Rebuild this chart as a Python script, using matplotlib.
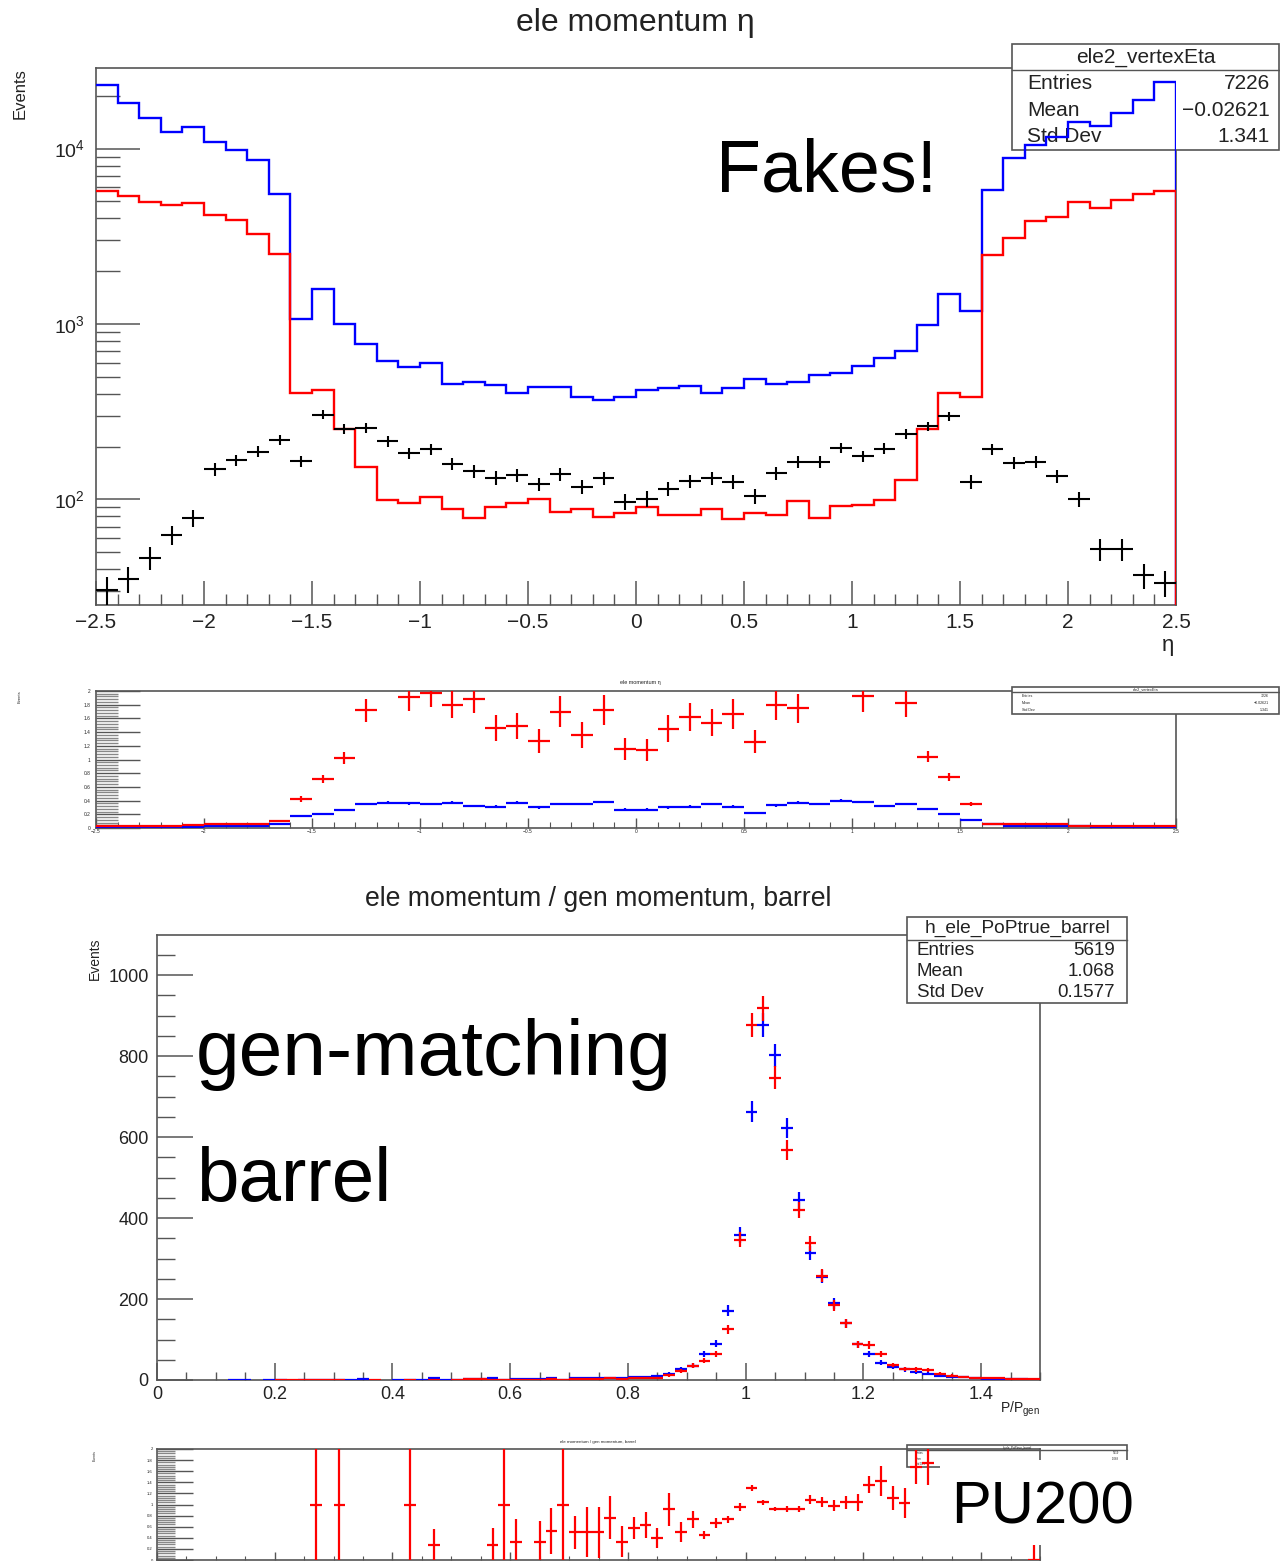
import numpy as np
import matplotlib
matplotlib.use('Agg')
import matplotlib.pyplot as plt
from matplotlib.patches import Rectangle
from matplotlib.lines import Line2D
from matplotlib.ticker import MultipleLocator, LogLocator, NullFormatter, FuncFormatter

# ---------------- data: electron eta (50 bins, -2.5 .. 2.5) ----------------
eta_range = (-2.5, 2.5)
eta_nbins = 50
eta_blue = [23000, 18100, 14900, 12400, 13300, 10900, 9850, 8600, 5540, 1070,
            1585, 1000, 767, 613, 570, 596, 452, 468, 448, 405,
            436, 436, 381, 371, 381, 420, 429, 444, 405, 432,
            485, 452, 468, 515, 523, 574, 643, 705, 985, 1487,
            1180, 5810, 8860, 10500, 11640, 14150, 13370, 16000, 18980, 23900]
eta_red = [5740, 5400, 4970, 4770, 4890, 4200, 3900, 3270, 2490, 405,
           421, 251, 152, 99.5, 96, 103, 88, 78, 91, 96,
           101, 85, 88, 79, 84, 90, 81.5, 81.5, 88, 77,
           84, 81.5, 98, 78, 92, 92.5, 98.9, 129, 252, 406,
           384, 2460, 3100, 3850, 4055, 4985, 4570, 5120, 5530, 5730]
eta_fakes = [30.4, 35.3, 46.5, 62.8, 78.7, 149, 167, 187, 219, 165,
             304, 253, 255, 214, 183, 194, 159, 145, 133, 138,
             122, 139, 118, 132, 97, 101, 115, 127, 132, 126,
             105, 141, 164, 164, 197, 176, 195, 236, 261, 297,
             126, 193, 161, 163, 136, 100, 52, 52, 37, 33.5]

# ratio panel under the eta plot
eta_ratio_red = [0.03, 0.03, 0.03, 0.03, 0.04, 0.065, 0.065, 0.065, 0.10, 0.42,
                 0.72, 1.02, 1.72, 2.5, 1.91, 1.97, 1.80, 1.89, 1.46, 1.49,
                 1.27, 1.70, 1.36, 1.72, 1.15, 1.14, 1.45, 1.62, 1.54, 1.66,
                 1.26, 1.79, 1.75, 2.5, 2.5, 1.92, 2.5, 1.82, 1.04, 0.74,
                 0.35, 0.065, 0.065, 0.065, 0.065, 0.035, 0.025, 0.025, 0.025, 0.025]
eta_ratio_red_err = [0.005, 0.005, 0.005, 0.006, 0.006, 0.008, 0.008, 0.008, 0.01, 0.04,
                     0.06, 0.09, 0.17, 0.25, 0.20, 0.21, 0.20, 0.21, 0.19, 0.19,
                     0.17, 0.22, 0.19, 0.22, 0.16, 0.16, 0.20, 0.21, 0.20, 0.22,
                     0.17, 0.22, 0.21, 0.25, 0.25, 0.22, 0.25, 0.20, 0.08, 0.06,
                     0.03, 0.008, 0.008, 0.008, 0.008, 0.006, 0.005, 0.005, 0.005, 0.005]
eta_ratio_blue = [0.015, 0.015, 0.015, 0.015, 0.015, 0.035, 0.035, 0.035, 0.065, 0.17,
                  0.21, 0.26, 0.35, 0.37, 0.36, 0.35, 0.37, 0.32, 0.31, 0.37,
                  0.30, 0.35, 0.35, 0.38, 0.27, 0.27, 0.30, 0.31, 0.35, 0.31,
                  0.22, 0.33, 0.37, 0.35, 0.40, 0.38, 0.32, 0.35, 0.28, 0.21,
                  0.11, 0.065, 0.035, 0.035, 0.035, 0.035, 0.015, 0.015, 0.015, 0.015]
eta_ratio_blue_err = [0.004] * 9 + [0.012] * 3 + [0.02] * 26 + [0.012] * 3 + [0.004] * 9

# ---------------- data: P/Pgen barrel (75 bins, 0 .. 1.5) ----------------
p_range = (0.0, 1.5)
p_nbins = 75
p_blue = [0, 0, 0, 0, 0, 0, 1, 1, 0, 1,
          1, 0, 1, 1, 1, 1, 1, 2, 0, 0,
          1, 1, 1, 4, 1, 1, 2, 2, 4, 1,
          3, 3, 3, 4, 1, 4, 4, 4, 5, 6,
          7, 8, 10, 15, 28, 35, 64, 90, 171, 358,
          663, 877, 802, 623, 444, 313, 255, 189, 140, 88,
          64, 43, 33, 26, 19, 15, 10, 8, 7, 4,
          3, 3, 2, 2, 1]
p_red = [0, 0, 0, 0, 0, 0, 0, 0, 0, 0,
         1, 1, 1, 1, 1, 1, 0, 0, 1, 0,
         0, 1, 0, 1, 0, 1, 2, 2, 1, 1,
         1, 1, 1, 2, 1, 2, 2, 2, 4, 2,
         4, 5, 4, 12, 22, 35, 48, 64, 125, 346,
         877, 918, 747, 568, 420, 338, 257, 185, 140, 88,
         86, 64, 37, 28, 26, 24, 16, 11, 8, 6,
         5, 4, 3, 2, 2]
nan = float('nan')
p_ratio = [nan] * 13 + [1.0, nan, 1.0, nan, nan, nan, nan, nan, 1.0,
           nan, 0.27, nan, nan, nan, nan, 0.27, 1.0, 0.33, nan,
           0.33, 0.52, 1.0, 0.5, 0.5, 0.5, 0.76, 0.33, 0.57, 0.63,
           0.40, 0.91, 0.5, 0.73, 0.45, 0.67, 0.73, 0.96, 1.30, 1.04,
           0.92, 0.92, 0.92, 1.09, 1.04, 0.98, 1.04, 1.04, 1.36, 1.42,
           1.12, 1.03, 1.68, 1.74] + [nan] * 8 + [0.0]
p_ratio_err = [nan] * 13 + [1.5, nan, 1.5, nan, nan, nan, nan, nan, 1.5,
               nan, 0.28, nan, nan, nan, nan, 0.3, 1.5, 0.4, nan,
               0.38, 0.42, 1.5, 0.3, 0.45, 0.46, 0.39, 0.28, 0.2, 0.23,
               0.18, 0.3, 0.18, 0.15, 0.08, 0.09, 0.07, 0.07, 0.06, 0.04,
               0.04, 0.05, 0.06, 0.08, 0.09, 0.10, 0.12, 0.15, 0.15, 0.27,
               0.22, 0.27, 0.31, 0.39] + [nan] * 8 + [0.27]

stats_eta_title = 'ele2_vertexEta'
stats_eta_rows = [('Entries', '7226'), ('Mean', '\u22120.02621'), ('Std Dev', '1.341')]
stats_p_title = 'h_ele_PoPtrue_barrel'
stats_p_rows = [('Entries', '5619'), ('Mean', '1.068'), ('Std Dev', '0.1577')]

# ---------------- style ----------------
plt.rcParams['font.family'] = ['Liberation Sans', 'DejaVu Sans']
plt.rcParams['mathtext.fontset'] = 'custom'
plt.rcParams['mathtext.rm'] = 'Liberation Sans'
plt.rcParams['mathtext.it'] = 'Liberation Sans:italic'
plt.rcParams['mathtext.default'] = 'regular'

W, H = 1280, 1561
fig = plt.figure(figsize=(W / 100, H / 100), dpi=100)
TF = fig.transFigure
FRAME = '#555555'
TXT = '#222222'


def fx(px):
    return px / W


def fy(py):
    return 1 - py / H


def add_ax(left, top, right, bottom):
    ax = fig.add_axes([fx(left), fy(bottom), (right - left) / W, (bottom - top) / H])
    for s in ax.spines.values():
        s.set_color(FRAME)
        s.set_linewidth(1.2)
    return ax


def rootfmt(v, pos):
    s = '%g' % v
    return s.replace('-', '\u2212')


def stats_box(ax, x0, y0, x1, y1, ysep, title, rows, fs, face, z, lpad, rpad, tfs=None):
    ax.add_patch(Rectangle((fx(x0), fy(y1)), fx(x1) - fx(x0), fy(y0) - fy(y1), transform=TF,
                           facecolor=face, edgecolor=FRAME, lw=1.2, zorder=z, clip_on=False))
    ax.add_line(Line2D([fx(x0), fx(x1)], [fy(ysep)] * 2, transform=TF, color=FRAME, lw=1.0,
                       zorder=z, clip_on=False))
    ax.text((fx(x0) + fx(x1)) / 2, fy((y0 + ysep) / 2), title, transform=TF, ha='center', va='center',
            fontsize=tfs or fs, color=TXT, zorder=z + 0.1, clip_on=False)
    h = (y1 - ysep) / len(rows)
    for i, (k, v) in enumerate(rows):
        yc = ysep + h * (i + 0.5)
        ax.text(fx(x0 + lpad), fy(yc), k, transform=TF, ha='left', va='center', fontsize=fs,
                color=TXT, zorder=z + 0.1, clip_on=False)
        ax.text(fx(x1 - rpad), fy(yc), v, transform=TF, ha='right', va='center', fontsize=fs,
                color=TXT, zorder=z + 0.1, clip_on=False)


eta_edges = np.linspace(eta_range[0], eta_range[1], eta_nbins + 1)
eta_centers = 0.5 * (eta_edges[:-1] + eta_edges[1:])
eta_halfw = 0.5 * (eta_edges[1] - eta_edges[0])
p_edges = np.linspace(p_range[0], p_range[1], p_nbins + 1)
p_centers = 0.5 * (p_edges[:-1] + p_edges[1:])
p_halfw = 0.5 * (p_edges[1] - p_edges[0])

# ================= top: eta, log scale =================
ax1 = add_ax(96, 68, 1176, 605)
ax1.set_yscale('log')
ax1.set_xlim(*eta_range)
ax1.set_ylim(25, 28800)
for vals, col, z in ((eta_blue, '#0000ff', 4), (eta_red, '#ff0000', 4.1)):
    ax1.stairs(vals, eta_edges, baseline=None, color=col, lw=1.7, zorder=z)
    ax1.vlines(eta_edges[-1], 1, vals[-1], color=col, lw=1.7, zorder=z)
fk = np.array(eta_fakes)
ax1.errorbar(eta_centers, fk, yerr=np.sqrt(fk), xerr=eta_halfw, fmt='none', ecolor='black',
             elinewidth=1.5, zorder=5)
ax1.xaxis.set_major_locator(MultipleLocator(0.5))
ax1.xaxis.set_minor_locator(MultipleLocator(0.1))
ax1.xaxis.set_major_formatter(FuncFormatter(rootfmt))
ax1.yaxis.set_major_locator(LogLocator(base=10))
ax1.yaxis.set_minor_locator(LogLocator(base=10, subs=np.arange(2, 10)))
ax1.yaxis.set_minor_formatter(NullFormatter())
ax1.tick_params(axis='x', which='major', direction='in', length=17, width=1.1, color=FRAME,
                labelsize=15, labelcolor=TXT, pad=6, top=False)
ax1.tick_params(axis='x', which='minor', direction='in', length=8, width=1.0, color=FRAME, top=False)
ax1.tick_params(axis='y', which='major', direction='in', length=32, width=1.1, color=FRAME,
                labelsize=14, labelcolor=TXT, pad=8, right=False)
ax1.tick_params(axis='y', which='minor', direction='in', length=17, width=1.0, color=FRAME, right=False)
stats_box(ax1, 1012, 44, 1279, 150, 70, stats_eta_title, stats_eta_rows, 15, 'white', 3, 15, 9)

fig.text(fx(635), fy(31), 'ele momentum \u03b7', ha='center', va='baseline', fontsize=23, color=TXT)
fig.text(fx(20), fy(68), 'Events', rotation=90, ha='center', va='top', fontsize=12, color=TXT)
fig.text(fx(1168), fy(645), '\u03b7', ha='center', va='center', fontsize=16, color=TXT)
fig.text(fx(716), fy(191), 'Fakes!', ha='left', va='baseline', fontsize=53, color='black', zorder=11)

# ================= ratio under eta =================
ax2 = add_ax(96, 691, 1176, 828)
ax2.set_xlim(*eta_range)
ax2.set_ylim(0, 2)
ax2.errorbar(eta_centers, eta_ratio_blue, yerr=eta_ratio_blue_err, xerr=eta_halfw, fmt='none',
             ecolor='#0000ff', elinewidth=1.6, zorder=4)
ax2.errorbar(eta_centers, eta_ratio_red, yerr=eta_ratio_red_err, xerr=eta_halfw, fmt='none',
             ecolor='#ff0000', elinewidth=1.6, zorder=4.1)
ax2.xaxis.set_major_locator(MultipleLocator(0.5))
ax2.xaxis.set_minor_locator(MultipleLocator(0.1))
ax2.xaxis.set_major_formatter(FuncFormatter(rootfmt))
ax2.yaxis.set_major_locator(MultipleLocator(0.2))
ax2.yaxis.set_minor_locator(MultipleLocator(0.04))
ax2.yaxis.set_major_formatter(FuncFormatter(rootfmt))
ax2.tick_params(axis='x', which='major', direction='in', length=7, width=1, color=FRAME,
                labelsize=3.5, labelcolor=TXT, pad=1, top=False)
ax2.tick_params(axis='x', which='minor', direction='in', length=4, width=0.8, color=FRAME, top=False)
ax2.tick_params(axis='y', which='major', direction='in', length=32, width=1, color=FRAME,
                labelsize=3.5, labelcolor=TXT, pad=4, right=False)
ax2.tick_params(axis='y', which='minor', direction='in', length=16, width=1.0, color='#888888', right=False)
stats_box(ax2, 1012, 687, 1279, 714, 692, stats_eta_title, stats_eta_rows, 2.6, 'white', 3, 10, 10, tfs=2.8)
fig.text(fx(640), fy(684), 'ele momentum \u03b7', ha='center', va='baseline', fontsize=4, color=TXT)
fig.text(fx(20), fy(690), 'Events', rotation=90, ha='center', va='top', fontsize=3, color=TXT)

# ================= P / Pgen barrel =================
ax3 = add_ax(157, 935, 1040, 1380)
ax3.set_xlim(*p_range)
ax3.set_ylim(0, 1099)
pb = np.array(p_blue, dtype=float)
pr = np.array(p_red, dtype=float)
mb = pb > 0
mr = pr > 0
ax3.errorbar(p_centers[mb], pb[mb], yerr=np.sqrt(pb[mb]), xerr=p_halfw, fmt='none', ecolor='#0000ff',
             elinewidth=1.6, zorder=4)
ax3.errorbar(p_centers[mr], pr[mr], yerr=np.sqrt(pr[mr]), xerr=p_halfw, fmt='none', ecolor='#ff0000',
             elinewidth=1.6, zorder=4.1)
ax3.xaxis.set_major_locator(MultipleLocator(0.2))
ax3.xaxis.set_minor_locator(MultipleLocator(0.05))
ax3.xaxis.set_major_formatter(FuncFormatter(rootfmt))
ax3.yaxis.set_major_locator(MultipleLocator(200))
ax3.yaxis.set_minor_locator(MultipleLocator(50))
ax3.tick_params(axis='x', which='major', direction='in', length=12, width=1.1, color=FRAME,
                labelsize=13, labelcolor=TXT, pad=4, top=False)
ax3.tick_params(axis='x', which='minor', direction='in', length=6, width=1.0, color=FRAME, top=False)
ax3.tick_params(axis='y', which='major', direction='in', length=26, width=1.1, color=FRAME,
                labelsize=13, labelcolor=TXT, pad=6, right=False)
ax3.tick_params(axis='y', which='minor', direction='in', length=13, width=1.0, color=FRAME, right=False)
stats_box(ax3, 907, 917, 1127, 1003, 940, stats_p_title, stats_p_rows, 13.5, 'white', 3, 10, 12, tfs=13.8)
fig.text(fx(598), fy(906), 'ele momentum / gen momentum, barrel', ha='center', va='baseline',
         fontsize=19.2, color=TXT)
fig.text(fx(95), fy(937), 'Events', rotation=90, ha='center', va='top', fontsize=10, color=TXT)
fig.text(fx(1040), fy(1413), r'$P/P_{gen}$', ha='right', va='baseline', fontsize=10, color=TXT)
fig.text(fx(196), fy(1075), 'gen-matching', ha='left', va='baseline', fontsize=56.5, color='black', zorder=11)
fig.text(fx(196), fy(1201), 'barrel', ha='left', va='baseline', fontsize=55, color='black', zorder=11)

# ================= ratio under P/Pgen =================
ax4 = add_ax(157, 1449, 1040, 1560)
ax4.set_xlim(*p_range)
ax4.set_ylim(0, 2)
ax4.errorbar(p_centers, p_ratio, yerr=p_ratio_err, xerr=p_halfw, fmt='none', ecolor='#ff0000',
             elinewidth=1.6, zorder=4)
ax4.xaxis.set_major_locator(MultipleLocator(0.2))
ax4.xaxis.set_minor_locator(MultipleLocator(0.05))
ax4.yaxis.set_major_locator(MultipleLocator(0.2))
ax4.yaxis.set_minor_locator(MultipleLocator(0.04))
ax4.yaxis.set_major_formatter(FuncFormatter(rootfmt))
ax4.tick_params(axis='x', which='major', direction='in', length=6, width=1, color=FRAME,
                labelbottom=False, top=False)
ax4.tick_params(axis='x', which='minor', direction='in', length=3, width=0.8, color=FRAME, top=False)
ax4.tick_params(axis='y', which='major', direction='in', length=26, width=1, color=FRAME,
                labelsize=3, labelcolor=TXT, pad=3, right=False)
ax4.tick_params(axis='y', which='minor', direction='in', length=13, width=1.0, color='#888888', right=False)
stats_box(ax4, 907, 1445, 1127, 1467, 1450, stats_p_title, stats_p_rows, 2.0, 'none', 3, 8, 8, tfs=2.2)
fig.text(fx(598), fy(1443), 'ele momentum / gen momentum, barrel', ha='center', va='baseline',
         fontsize=3.2, color=TXT)
fig.text(fx(95), fy(1450), 'Events', rotation=90, ha='center', va='top', fontsize=2.5, color=TXT)

# PU200 label with white background
fig.add_artist(Rectangle((fx(940), fy(1545)), fx(1150) - fx(940), fy(1460) - fy(1545), transform=TF,
                         facecolor='white', edgecolor='none', zorder=10))
fig.text(fx(951), fy(1523), 'PU200', ha='left', va='baseline', fontsize=43, color='black', zorder=11)

fig.savefig('out.png', dpi=100)
